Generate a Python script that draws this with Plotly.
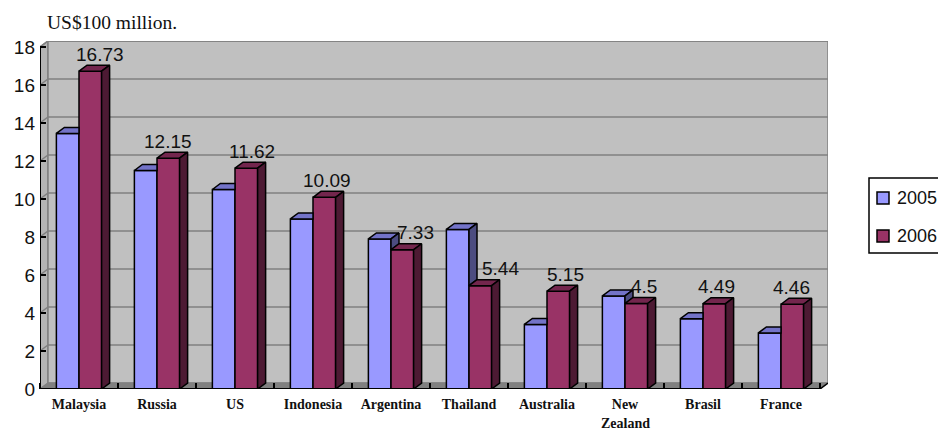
import plotly.graph_objects as go

categories = ["Malaysia", "Russia", "US", "Indonesia", "Argentina", "Thailand", "Australia", "New Zealand", "Brasil", "France"]
series_names = ["2005", "2006"]
values_2005 = [13.45, 11.5, 10.5, 8.95, 7.9, 8.4, 3.4, 4.9, 3.7, 2.95]
values_2006 = [16.73, 12.15, 11.62, 10.09, 7.33, 5.44, 5.15, 4.5, 4.49, 4.46]
label_text = ["16.73", "12.15", "11.62", "10.09", "7.33", "5.44", "5.15", "4.5", "4.49", "4.46"]
label_xshift = [10, 0, 6, 3, 13, 20, 7, 8, 2, -1]
y_ticks = list(range(0, 20, 2))

BLUE, BLUE_TOP = "#9999FF", "#7373C8"
RED, RED_TOP, RED_SIDE = "#993366", "#73264D", "#4D1A33"
WALL, GRID, FLOOR = "#C0C0C0", "#808080", "#808080"
BAR_HALF = 0.29
DX, DY = 8 / 78, 6 / 19
X0, X1, Y1 = -0.5, 9.5, 18
WIDTH, HEIGHT = 938, 430
L, R, T, B = 40, 828, 41, 389
SERIF, SANS = "Liberation Serif", "Liberation Sans"


def px(x):
    return (x - L) / (R - L)


def py(y):
    return (B - y) / (B - T)


def poly(points):
    path = "M" + " L".join(f"{x},{y}" for x, y in points) + " Z"
    return path


shapes = [
    dict(type="path", xref="x", yref="y", layer="below", path=poly([(X0, 0), (X0 + DX, DY), (X0 + DX, Y1 + DY), (X0, Y1)]),
         fillcolor="#B4B4B4", line=dict(color=GRID, width=1.5)),
    dict(type="path", xref="x", yref="y", layer="below", path=poly([(X0 + DX, DY), (X1 + DX, DY), (X1 + DX, Y1 + DY), (X0 + DX, Y1 + DY)]),
         fillcolor=WALL, line=dict(color=GRID, width=1.5)),
    dict(type="path", xref="x", yref="y", layer="below", path=poly([(X0, 0), (X1, 0), (X1 + DX, DY), (X0 + DX, DY)]),
         fillcolor=FLOOR, line=dict(color=GRID, width=1)),
]
for t in y_ticks[1:]:
    shapes.append(dict(type="line", xref="x", yref="y", layer="below", x0=X0, y0=t, x1=X0 + DX, y1=t + DY, line=dict(color=GRID, width=1.5)))
    shapes.append(dict(type="line", xref="x", yref="y", layer="below", x0=X0 + DX, y0=t + DY, x1=X1 + DX, y1=t + DY, line=dict(color=GRID, width=1.5)))
# front axes
shapes += [
    dict(type="line", xref="x", yref="y", x0=X0, y0=0, x1=X0, y1=Y1, line=dict(color="black", width=2)),
    dict(type="line", xref="x", yref="y", x0=X0, y0=0, x1=X1, y1=0, line=dict(color="black", width=2)),
    dict(type="line", xref="x", yref="y", x0=X1, y0=0, x1=X1 + DX, y1=DY, line=dict(color="black", width=1.5)),
]
# legend frame and swatches
shapes.append(dict(type="rect", xref="paper", yref="paper", x0=px(869), x1=px(950), y0=py(253), y1=py(178),
                   fillcolor="white", line=dict(color="black", width=1.5)))
for top, col in [(192, BLUE), (230, RED)]:
    shapes.append(dict(type="rect", xref="paper", yref="paper", x0=px(877), x1=px(889), y0=py(top + 12), y1=py(top),
                       fillcolor=col, line=dict(color="black", width=1.5)))

xs = list(range(len(categories)))
fig = go.Figure()
fig.add_bar(x=xs, y=values_2005, name=series_names[0], marker=dict(color=BLUE, line=dict(color="black", width=1.5)))
fig.add_bar(x=xs, y=values_2006, name=series_names[1], marker=dict(color=RED, line=dict(color="black", width=1.5)))


def face(points, fill):
    xx, yy = [], []
    for group in points:
        for x, y in group + [group[0]]:
            xx.append(x)
            yy.append(y)
        xx.append(None)
        yy.append(None)
    fig.add_scatter(x=xx, y=yy, mode="lines", fill="toself", fillcolor=fill, line=dict(color="black", width=1.5),
                    hoverinfo="skip", showlegend=False)


blue_tops, blue_sides, red_tops, red_sides = [], [], [], []
for i, (b, r) in zip(xs, zip(values_2005, values_2006)):
    l, m, h = i - BAR_HALF, i, i + BAR_HALF
    if r >= b:
        blue_tops.append([(l, b), (m, b), (m, b + DY), (l + DX, b + DY)])
    else:
        blue_tops.append([(l, b), (m, b), (m + DX, b + DY), (l + DX, b + DY)])
        blue_sides.append([(m, r), (m, b), (m + DX, b + DY), (m + DX, r + DY)])
    red_tops.append([(m, r), (h, r), (h + DX, r + DY), (m + DX, r + DY)])
    red_sides.append([(h, 0), (h, r), (h + DX, r + DY), (h + DX, DY)])
face(blue_tops, BLUE_TOP)
if blue_sides:
    face(blue_sides, "#4C4C80")
face(red_tops, RED_TOP)
face(red_sides, RED_SIDE)

annotations = []
for i, v, s, dx in zip(xs, values_2006, label_text, label_xshift):
    annotations.append(dict(x=i + BAR_HALF / 2, y=v, xref="x", yref="y", text=s, showarrow=False, yanchor="middle",
                            xshift=dx, yshift=17, font=dict(family=SANS, size=19, color="#111")))
annotations.append(dict(x=px(45), y=py(22), xref="paper", yref="paper", text="US$100 million.", showarrow=False,
                        xanchor="left", yanchor="middle", font=dict(family=SERIF, size=19.5, color="#111")))
for name, mid in zip(series_names, (198, 236)):
    annotations.append(dict(x=px(895), y=py(mid), xref="paper", yref="paper", text=name, showarrow=False,
                            xanchor="left", yanchor="middle", font=dict(family=SANS, size=18, color="#111")))
for i, c in zip(xs, categories):
    parts = c.split(" ")
    if len(parts) > 1:
        annotations.append(dict(x=i, y=py(423), xref="x", yref="paper", text=parts[1], showarrow=False, yanchor="middle",
                                font=dict(family=SERIF, size=14, color="#111", weight="bold")))

fig.update_layout(
    width=WIDTH, height=HEIGHT, autosize=False, showlegend=False,
    margin=dict(l=L, r=WIDTH - R, t=T, b=HEIGHT - B, pad=0),
    paper_bgcolor="white", plot_bgcolor="white",
    barmode="group", bargap=1 - 2 * BAR_HALF, bargroupgap=0,
    shapes=shapes, annotations=annotations,
    xaxis=dict(range=[X0, X1 + DX], tickmode="array", tickvals=xs, ticktext=[c.split(" ")[0] for c in categories],
               ticks="", showgrid=False, zeroline=False, showline=False, ticklabelstandoff=5,
               tickfont=dict(family=SERIF, size=14, color="#111", weight="bold"),
               minor=dict(tickmode="array", tickvals=[X0 + k for k in range(11)], ticks="inside", ticklen=6, tickwidth=1.5,
                          tickcolor="black", showgrid=False)),
    yaxis=dict(range=[0, Y1 + DY], tickmode="array", tickvals=y_ticks, ticks="inside", ticklen=6, tickwidth=1.5, tickcolor="black",
               showgrid=False, zeroline=False, showline=False, ticklabelstandoff=4,
               tickfont=dict(family=SANS, size=19, color="#111")),
)
fig.write_html("out.html", config=dict(displayModeBar=False), post_script="document.body.style.margin='0';")
